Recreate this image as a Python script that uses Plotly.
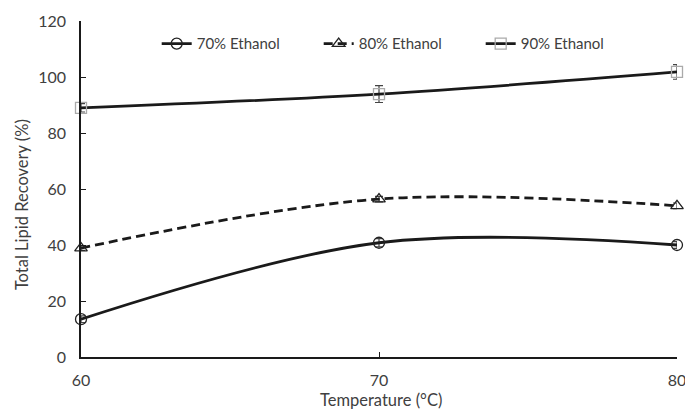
import plotly.graph_objects as go

temps = [60, 70, 80]
eth70 = [13.5, 40.8, 40.0]
eth80 = [38.9, 56.4, 54.0]
eth90 = [89.0, 93.9, 101.8]
err70 = [1.2, 1.5, 1.2]
err80 = [0.8, 1.0, 1.0]
err90 = [1.5, 3.0, 2.6]
names = ["70% Ethanol", "80% Ethanol", "90% Ethanol"]
y_ticks = [0, 20, 40, 60, 80, 100, 120]
x_ticks = [60, 70, 80]

FONT = "Lato, 'Open Sans', sans-serif"
TXT = "#404040"
fig = go.Figure()

specs = [
    (eth70, err70, names[0], "circle-open", "solid", "#222222"),
    (eth80, err80, names[1], "triangle-up-open", "9px,5px", "#222222"),
    (eth90, err90, names[2], "square-open", "solid", "#aaaaaa"),
]
for ys, es, nm, sym, dash, mcol in specs:
    fig.add_trace(go.Scatter(
        x=temps, y=ys, name=nm, mode="lines+markers",
        line=dict(color="#1a1a1a", width=2.8, dash=dash, shape="spline", smoothing=1.0),
        marker=dict(symbol=sym, size=11, color=mcol, line=dict(width=1.3, color=mcol)),
        error_y=dict(type="data", array=es, visible=True, color="#444444", thickness=1.2, width=4),
        cliponaxis=False,
    ))

fig.update_layout(
    width=685, height=415,
    margin=dict(l=81, r=8, t=21, b=58, autoexpand=False),
    paper_bgcolor="white", plot_bgcolor="white",
    font=dict(family=FONT, size=15, color=TXT),
    legend=dict(orientation="h", x=0.127, xanchor="left", y=0.932, yanchor="middle",
                font=dict(size=15, color=TXT), bgcolor="rgba(0,0,0,0)",
                entrywidth=117, entrywidthmode="pixels", tracegroupgap=0),
    showlegend=True,
    annotations=[
        dict(text="Total Lipid Recovery (%)", xref="paper", yref="paper",
             x=-0.099, y=0.455, textangle=-90, showarrow=False,
             xanchor="center", yanchor="middle", font=dict(size=16.5, color=TXT)),
        dict(text="Temperature (°C)", xref="paper", yref="paper",
             x=0.503, y=-0.128, showarrow=False,
             xanchor="center", yanchor="middle", font=dict(size=16.5, color=TXT)),
    ],
)
fig.update_xaxes(
    range=[60, 80], tickvals=x_ticks, showgrid=False, zeroline=False,
    showline=True, linecolor="#1a1a1a", linewidth=1.5,
    ticks="inside", ticklen=5, tickcolor="#1a1a1a", tickwidth=1,
    ticklabeloverflow="allow", ticklabelstandoff=8, automargin=False,
    tickfont=dict(size=16),
)
fig.update_yaxes(
    range=[0, 120], tickvals=y_ticks, showgrid=False, zeroline=False,
    showline=True, linecolor="#1a1a1a", linewidth=1.5,
    ticks="inside", ticklen=5, tickcolor="#1a1a1a", tickwidth=1,
    ticklabelstandoff=10, automargin=False,
    tickfont=dict(size=16),
)

fig.write_html("out.html")
